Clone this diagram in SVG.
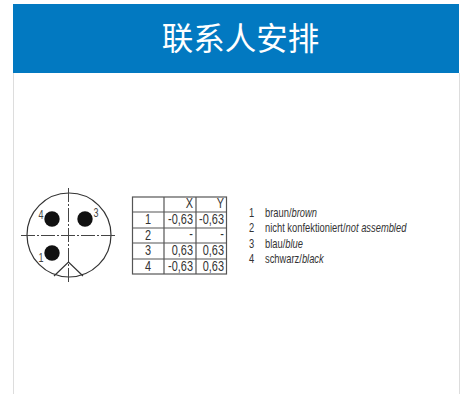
<svg xmlns="http://www.w3.org/2000/svg" width="462" height="394" viewBox="0 0 462 394">
<style>
.t{font-family:"Liberation Sans",sans-serif;font-size:14px;fill:#333}
.l{font-family:"Liberation Sans",sans-serif;font-size:13px;fill:#333}
.p{font-family:"Liberation Sans",sans-serif;font-size:12px;fill:#444;text-anchor:middle}
.g{stroke:#555;stroke-width:1.2;fill:none}
.ax{stroke:#444;stroke-width:1;stroke-dasharray:14 2 2 2;fill:none}
.e{text-anchor:end}.m{text-anchor:middle}
.i{font-style:italic}
</style>
<rect width="462" height="394" fill="#fff"/>
<rect x="13" y="73" width="1" height="321" fill="#ddd"/>
<rect x="459" y="73" width="1" height="321" fill="#ddd"/>
<rect x="13" y="4" width="446" height="69" fill="#0279c1"/>
<text x="240.500" y="50" text-anchor="middle" font-family="'Noto Sans CJK SC',sans-serif" font-size="31.500" fill="#fff">联系人安排</text>
<g id="connector-face">
<circle cx="69" cy="235" r="42" fill="none" stroke="#333" stroke-width="1.200"/>
<path class="ax" d="M21 235.500H117"/>
<path class="ax" d="M68.500 188V284"/>
<path d="M54 276L68.500 262L83 276" fill="none" stroke="#333" stroke-width="1.200"/>
<circle cx="52" cy="219" r="7.700" fill="#111"/>
<circle cx="85" cy="219" r="7.700" fill="#111"/>
<circle cx="52" cy="253" r="7.700" fill="#111"/>
<text class="p" transform="translate(41 219) scale(.75 1)">4</text>
<text class="p" transform="translate(96 217) scale(.75 1)">3</text>
<text class="p" transform="translate(41 262) scale(.75 1)">1</text>
</g>
<g id="table">
<rect x="132.500" y="197" width="94" height="77" fill="#fff" stroke="#555" stroke-width="1.200"/>
<path class="g" d="M132 212H227M132 228H227M132 243H227M132 259H227M164 197V274M196 197V274"/>
<text class="t e" transform="translate(193 208) scale(.78 1)">X</text><text class="t e" transform="translate(224 208) scale(.78 1)">Y</text>
<text class="t m" transform="translate(148 224) scale(.78 1)">1</text><text class="t e" transform="translate(193 224) scale(.78 1)">-0,63</text><text class="t e" transform="translate(224 224) scale(.78 1)">-0,63</text>
<text class="t m" transform="translate(148 240) scale(.78 1)">2</text><text class="t e" transform="translate(193 239) scale(.78 1)">-</text><text class="t e" transform="translate(224 239) scale(.78 1)">-</text>
<text class="t m" transform="translate(148 255) scale(.78 1)">3</text><text class="t e" transform="translate(193 255) scale(.78 1)">0,63</text><text class="t e" transform="translate(224 255) scale(.78 1)">0,63</text>
<text class="t m" transform="translate(148 271) scale(.78 1)">4</text><text class="t e" transform="translate(193 271) scale(.78 1)">-0,63</text><text class="t e" transform="translate(224 271) scale(.78 1)">0,63</text>
</g>
<g id="legend">
<text class="l" transform="translate(249 217) scale(.72 1)">1</text><text class="l" transform="translate(265 217) scale(.72 1)">braun/<tspan class="i">brown</tspan></text>
<text class="l" transform="translate(249 232) scale(.72 1)">2</text><text class="l" transform="translate(265 232) scale(.72 1)">nicht konfektioniert/<tspan class="i">not assembled</tspan></text>
<text class="l" transform="translate(249 248) scale(.72 1)">3</text><text class="l" transform="translate(265 248) scale(.72 1)">blau/<tspan class="i">blue</tspan></text>
<text class="l" transform="translate(249 263) scale(.72 1)">4</text><text class="l" transform="translate(265 263) scale(.72 1)">schwarz/<tspan class="i">black</tspan></text>
</g>
</svg>
